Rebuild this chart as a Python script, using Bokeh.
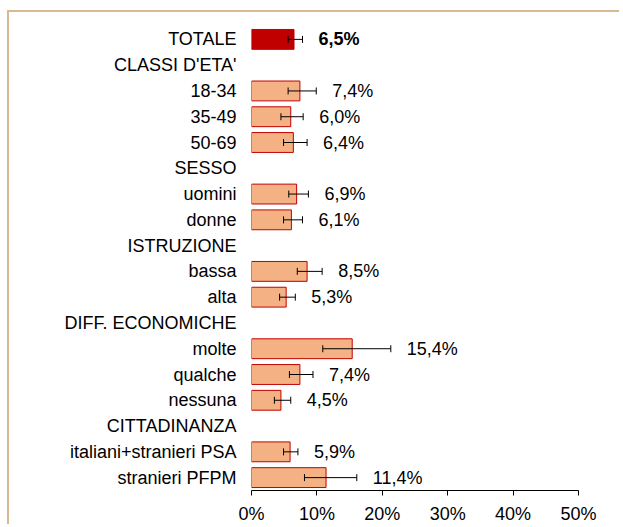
from bokeh.plotting import figure
from bokeh.models import ColumnDataSource, Whisker, TeeHead, FactorRange, FixedTicker
from bokeh.core.properties import value
from bokeh.embed import file_html
from bokeh.resources import INLINE

rows = ["TOTALE", "CLASSI D'ETA'", "18-34", "35-49", "50-69", "SESSO", "uomini", "donne",
        "ISTRUZIONE", "bassa", "alta", "DIFF. ECONOMICHE", "molte", "qualche", "nessuna",
        "CITTADINANZA", "italiani+stranieri PSA", "stranieri PFPM"]

bar_cats = ["TOTALE", "18-34", "35-49", "50-69", "uomini", "donne", "bassa", "alta",
            "molte", "qualche", "nessuna", "italiani+stranieri PSA", "stranieri PFPM"]
values = [6.5, 7.4, 6.0, 6.4, 6.9, 6.1, 8.5, 5.3, 15.4, 7.4, 4.5, 5.9, 11.4]
lower = [5.6, 5.6, 4.5, 4.9, 5.7, 4.9, 7.0, 4.3, 10.9, 5.8, 3.5, 4.9, 8.1]
upper = [7.8, 9.9, 7.9, 8.5, 8.7, 7.8, 10.8, 6.7, 21.3, 9.4, 6.0, 7.1, 16.1]
x_ticks = [0, 10, 20, 30, 40, 50]

FONT = "Liberation Sans"

fills = ["#C00000" if c == "TOTALE" else "#F4B183" for c in bar_cats]
styles = ["bold" if c == "TOTALE" else "normal" for c in bar_cats]
labels = [f"{v:.1f}".replace(".", ",") + "%" for v in values]

src = ColumnDataSource(dict(cat=bar_cats, val=values, lo=lower, hi=upper,
                            fill=fills, style=styles, lab=labels))

p = figure(width=612, height=514, output_backend="svg", toolbar_location=None,
           y_range=FactorRange(factors=list(reversed(rows)), range_padding=0),
           x_range=(0, 50),
           min_border_left=242, min_border_right=43, min_border_top=14, min_border_bottom=34)
p.margin = (10, 0, 0, 7)
p.styles = {"border-top": "2px solid #D8B994", "border-left": "2px solid #D8B994"}
p.outline_line_color = None
p.xgrid.grid_line_color = None
p.ygrid.grid_line_color = None
p.background_fill_color = "white"
p.border_fill_color = "white"

p.hbar(y="cat", left=0, right="val", height=0.77, source=src,
       fill_color="fill", line_color="#C00000", line_width=1)

w = Whisker(base="cat", lower="lo", upper="hi", dimension="width", source=src,
            line_color="black", line_width=1, level="overlay",
            upper_head=TeeHead(size=7, line_color="black", line_width=1),
            lower_head=TeeHead(size=7, line_color="black", line_width=1))
p.add_layout(w)

p.text(x="hi", y="cat", text="lab", source=src, x_offset=16,
       text_font=value(FONT), text_font_size="18px", text_font_style="style",
       text_baseline="middle", text_align="left", text_color="black")

p.xaxis.ticker = FixedTicker(ticks=x_ticks)
p.xaxis.major_label_overrides = {t: f"{t}%" for t in x_ticks}
p.xaxis.major_tick_out = 5
p.xaxis.major_tick_in = 0
p.xaxis.minor_tick_line_color = None
p.xaxis.major_label_standoff = 8
p.xaxis.axis_line_color = "black"
p.xaxis.major_tick_line_color = "black"
p.xaxis.major_label_text_font = FONT
p.xaxis.major_label_text_font_size = "18px"
p.xaxis.major_label_text_color = "black"

p.yaxis.axis_line_color = None
p.yaxis.major_tick_line_color = None
p.yaxis.minor_tick_line_color = None
p.yaxis.major_tick_out = 0
p.yaxis.major_label_standoff = 15
p.yaxis.major_label_text_font = FONT
p.yaxis.major_label_text_font_size = "18px"
p.yaxis.major_label_text_color = "black"

open("out.html", "w").write(file_html(p, INLINE))
